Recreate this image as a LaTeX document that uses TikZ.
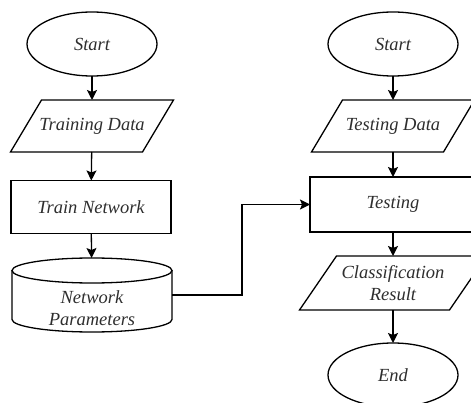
\documentclass[tikz,border=0pt]{standalone}
\usepackage{fontspec}
\setmainfont{Liberation Serif}
\usetikzlibrary{shapes.geometric,arrows.meta,calc}
\newcommand{\paraoutline}[2]{\draw[outline] ($(#1.north west)+(#2,0)$) -- ($(#1.north east)+(#2,0)$) -- ($(#1.south east)+(-#2,0)$) -- ($(#1.south west)+(-#2,0)$) -- cycle;}
\begin{document}
\begin{tikzpicture}[x=1pt,y=-1pt,
  base/.style={inner sep=0pt,outer sep=0pt,font=\fontsize{18.5}{22}\selectfont\itshape,text=black!82,align=center},
  term/.style={base,ellipse,draw,line width=1.3pt,minimum width=130pt,minimum height=64pt},
  proc/.style={base,rectangle,draw,line width=1.3pt},
  io/.style={base,rectangle,minimum height=52pt},
  store/.style={base,rectangle,minimum width=160pt,minimum height=74pt},
  outline/.style={line width=1.3pt},
  flow/.style={line width=1.3pt,-{Stealth[length=10pt,width=10pt,inset=2pt]}}
]
\clip (0,0) rectangle (471,403);
% left column
\node[term] (start1) at (92,44) {Start};
\node[io,minimum width=132pt] (train) at (92,126) {Training Data};
\paraoutline{train}{15.5}
\node[proc,minimum width=160pt,minimum height=53pt] (trainnet) at (91,207) {Train Network};
\node[store] (params) at (92,295) {};
\draw[outline] (92,270.5) ellipse [x radius=80, y radius=12.5];
\draw[outline] (12,270.5) -- (12,319.5) arc[start angle=180, end angle=0, x radius=80, y radius=12.5] -- (172,270.5);
\node[base] (paramstext) at (92,308.5) {Network\\Parameters};
% right column
\node[term] (start2) at (393,44) {Start};
\node[io,minimum width=132pt] (testdata) at (393,126) {Testing Data};
\paraoutline{testdata}{15.5}
\node[proc,minimum width=166pt,minimum height=55pt] (testing) at (393,204.5) {Testing};
\node[io,minimum width=150pt,minimum height=54pt] (result) at (393,283) {Classification\\Result};
\paraoutline{result}{18.5}
\node[term] (finish) at (393,375) {End};
% connectors
\draw[flow] (start1) -- (train);
\draw[flow] (train) -- (trainnet);
\draw[flow] (trainnet) -- (params);
\draw[flow] (start2) -- (testdata);
\draw[flow] (testdata) -- (testing);
\draw[flow] (testing) -- (result);
\draw[flow] (result) -- (finish);
\coordinate (bend) at (242,0);
\draw[flow] (params.east) -- (params.east -| bend) |- (testing.west);
\end{tikzpicture}
\end{document}
